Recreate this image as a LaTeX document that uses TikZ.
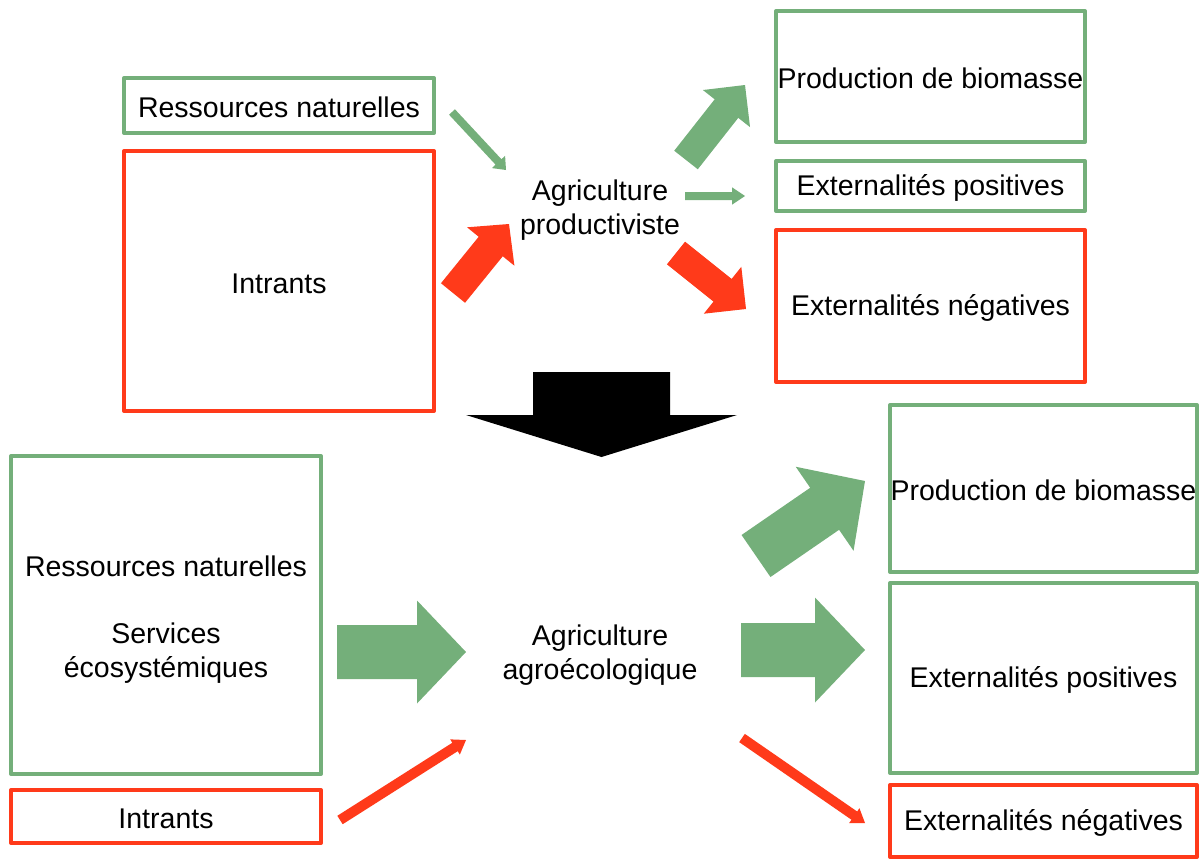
\documentclass[tikz,border=0pt]{standalone}
\usepackage{fontspec}
\setmainfont{Liberation Sans}
\usetikzlibrary{calc}
\definecolor{vert}{RGB}{116,175,122}
\definecolor{rouge}{RGB}{255,58,26}
% #1 style, #2 tail, #3 tip, #4 shaft half-width, #5 head half-width, #6 head length, #7 name
\newcommand\blockarrow[7]{%
  \coordinate (#7-base) at ($(#3)!#6!(#2)$);
  \fill[#1] ($(#2)!#4!90:(#3)$) -- ($(#7-base)!#4!90:(#3)$) -- ($(#7-base)!#5!90:(#3)$)
    -- (#3) -- ($(#7-base)!#5!-90:(#3)$) -- ($(#7-base)!#4!-90:(#3)$) -- ($(#2)!#4!-90:(#3)$) -- cycle;}
\tikzset{
  txt/.style={inner sep=0pt, align=center, font=\fontsize{28.5}{34}\selectfont,
    execute at begin node={\rule{0pt}{25pt}}},
  box/.style={txt, draw, line width=4pt, line join=round},
  gbox/.style={box, draw=vert},
  rbox/.style={box, draw=rouge},
}
\begin{document}
\begin{tikzpicture}[x=1pt,y=-1pt]
\useasboundingbox (0,0) rectangle (1201,859);
% top part
\node[gbox, minimum width=310pt, minimum height=55pt] (rn1) at (279,105.5) {Ressources naturelles};
\node[rbox, minimum width=310pt, minimum height=260pt] (in1) at (279,281) {Intrants};
\node[gbox, minimum width=309pt, minimum height=131pt] (pb1) at (930.5,76.5) {Production de biomasse};
\node[gbox, minimum width=309pt, minimum height=50pt] (ep1) at (930.5,186) {Externalités positives};
\node[rbox, minimum width=309pt, minimum height=152pt] (en1) at (930.5,306) {Externalités négatives};
\node[txt] (ag1) at (600,210) {Agriculture\\productiviste};
% bottom part
\node[gbox, minimum width=310pt, minimum height=318pt] (rn2) at (166,615) {\rule{0pt}{29pt}Ressources naturelles\\[33pt]Services\\écosystémiques};
\node[rbox, minimum width=310pt, minimum height=53pt] (in2) at (166,816.5) {Intrants};
\node[gbox, minimum width=307pt, minimum height=167pt] (pb2) at (1043.5,488.5) {Production de biomasse};
\node[gbox, minimum width=307pt, minimum height=190pt] (ep2) at (1043.5,678) {Externalités positives};
\node[rbox, minimum width=307pt, minimum height=72pt] (en2) at (1043.5,821) {Externalités négatives};
\node[txt] (ag2) at (600,655) {Agriculture\\agroécologique};
% arrow end points
\coordinate (a1t) at (452,112);  \coordinate (a1h) at (506,170);
\coordinate (a2t) at (453,293);  \coordinate (a2h) at (509,224);
\coordinate (a3t) at (686,160);  \coordinate (a3h) at (745,85);
\coordinate (a4t) at (685,196);  \coordinate (a4h) at (745,196);
\coordinate (a5t) at (676,253);  \coordinate (a5h) at (746,309);
\coordinate (bt) at (601.5,372); \coordinate (bh) at (601.5,457);
\coordinate (b1t) at (337,652);  \coordinate (b1h) at (466,652);
\coordinate (b2t) at (340,820);  \coordinate (b2h) at (466,740);
\coordinate (b3t) at (756,556);  \coordinate (b3h) at (865,481);
\coordinate (b4t) at (741,650);  \coordinate (b4h) at (865,650);
\coordinate (b5t) at (742,738);  \coordinate (b5h) at (865,823);
% top arrows
\blockarrow{vert}{a1t}{a1h}{4pt}{9pt}{11pt}{a1}
\blockarrow{rouge}{a2t}{a2h}{15.5pt}{30.5pt}{29pt}{a2}
\blockarrow{vert}{a3t}{a3h}{15pt}{30pt}{30pt}{a3}
\blockarrow{vert}{a4t}{a4h}{4pt}{8.7pt}{13pt}{a4}
\blockarrow{rouge}{a5t}{a5h}{14.5pt}{30pt}{30pt}{a5}
% big black arrow
\blockarrow{black}{bt}{bh}{68.5pt}{135.5pt}{42pt}{bb}
% bottom arrows
\blockarrow{vert}{b1t}{b1h}{27pt}{51.5pt}{49pt}{b1}
\blockarrow{rouge}{b2t}{b2h}{5pt}{9pt}{13pt}{b2}
\blockarrow{vert}{b3t}{b3h}{25.5pt}{51pt}{49pt}{b3}
\blockarrow{vert}{b4t}{b4h}{27pt}{52.5pt}{50pt}{b4}
\blockarrow{rouge}{b5t}{b5h}{5pt}{9pt}{13pt}{b5}
\end{tikzpicture}
\end{document}
